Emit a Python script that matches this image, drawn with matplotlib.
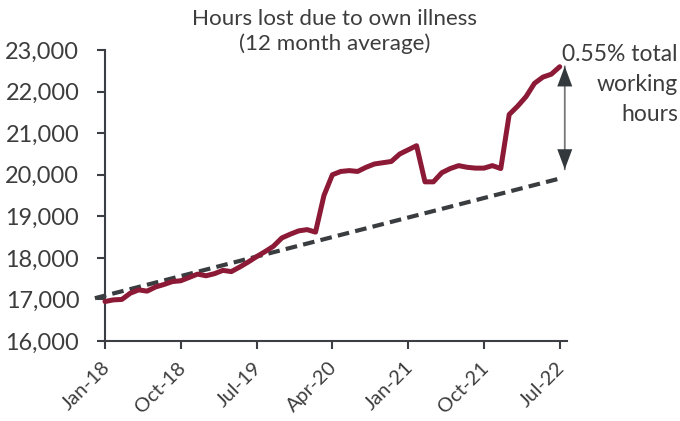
import matplotlib
matplotlib.use("Agg")
import matplotlib.pyplot as plt
import matplotlib.transforms as mtransforms
from matplotlib import font_manager

# ---- data ----
months = list(range(55))  # Jan-18 .. Jul-22
hours_lost = [16950, 16990, 17000, 17150, 17230, 17200, 17300, 17360, 17430, 17450,
              17530, 17610, 17570, 17620, 17700, 17670, 17780, 17900, 18030, 18150,
              18280, 18480, 18570, 18650, 18680, 18620, 19500, 20000, 20080, 20100,
              20080, 20180, 20260, 20290, 20320, 20500, 20600, 20700, 19830, 19830,
              20050, 20150, 20220, 20180, 20160, 20160, 20220, 20150, 21450, 21650,
              21880, 22200, 22350, 22420, 22600]
trend_months = [-1.2, 54]
trend_values = [17030, 19910]
tick_months = [0, 9, 18, 27, 36, 45, 54]
tick_labels = ["Jan-18", "Oct-18", "Jul-19", "Apr-20", "Jan-21", "Oct-21", "Jul-22"]
y_ticks = [16000, 17000, 18000, 19000, 20000, 21000, 22000, 23000]
arrow_month = 54.6
arrow_top = 22610
arrow_bottom = 20130
title = "Hours lost due to own illness\n(12 month average)"
note = "0.55% total\nworking\nhours"

names = {f.name for f in font_manager.fontManager.ttflist}
fam = "Lato" if "Lato" in names else "DejaVu Sans"
plt.rcParams["font.family"] = [fam, "DejaVu Sans"]

text_col = "#3d3d3d"
axis_col = "#3b3f43"
line_col = "#8c1a36"

fig = plt.figure(figsize=(6.8, 4.21), dpi=100)
renderer = fig.canvas.get_renderer()


def fit_size(s, target_px, base=10.0):
    t = fig.text(0, 0, s, fontsize=base)
    w = t.get_window_extent(renderer).width
    t.remove()
    return base * target_px / w


title_size = fit_size("Hours lost due to own illness", 285)
ytick_size = fit_size("23,000", 73)
xtick_size = fit_size("Jul-22", 55)
note_size = fit_size("0.55% total", 116)

ax = fig.add_axes([0.1544, 0.19, 0.679, 0.691])

ax.plot(trend_months, trend_values, color="#3a3d40", lw=3.0, ls=(0, (2.8, 1.5)),
        clip_on=False, zorder=2)
ax.plot(months, hours_lost, color=line_col, lw=3.6, solid_capstyle="round",
        solid_joinstyle="round", clip_on=False, zorder=3)

# arrow shaft
ax.annotate("", xy=(arrow_month, arrow_top), xytext=(arrow_month, arrow_bottom),
            arrowprops=dict(arrowstyle="-", color="#777777", lw=1.3,
                            shrinkA=0, shrinkB=0),
            annotation_clip=False)
# dark heads
for tip, sgn in [(arrow_top, -1), (arrow_bottom, 1)]:
    ax.annotate("", xy=(arrow_month, tip), xytext=(arrow_month, tip + sgn * 600),
                arrowprops=dict(arrowstyle="-|>,head_length=1.45,head_width=0.54",
                                color="#33383c", lw=0, shrinkA=0, shrinkB=0),
                annotation_clip=False)

ax.set_xlim(0, 54.83)
ax.set_ylim(16000, 23000)
ax.set_xticks(tick_months)
ax.set_xticklabels(tick_labels, rotation=45, ha="right", va="top")
ax.set_yticks(y_ticks)
ax.set_yticklabels([f"{v:,}" for v in y_ticks])

for s in ["top", "right"]:
    ax.spines[s].set_visible(False)
for s in ["left", "bottom"]:
    ax.spines[s].set_color(axis_col)
    ax.spines[s].set_linewidth(1.5)
ax.tick_params(axis="both", colors=axis_col, width=1.5, length=6,
               labelcolor=text_col)
ax.tick_params(axis="y", pad=12.5, labelsize=ytick_size)
ax.tick_params(axis="x", pad=7, labelsize=xtick_size)
offset = mtransforms.ScaledTranslation(8 / 100, 0, fig.dpi_scale_trans)
for lab in ax.get_xticklabels():
    lab.set_transform(lab.get_transform() + offset)

fig.text(0.4926, 0.978, title, ha="center", va="top", fontsize=title_size,
         color=text_col, linespacing=1.25)
fig.text(0.997, 0.895, note, ha="right", va="top", fontsize=note_size,
         color=text_col, linespacing=1.52)

fig.savefig("out.png", dpi=100)
